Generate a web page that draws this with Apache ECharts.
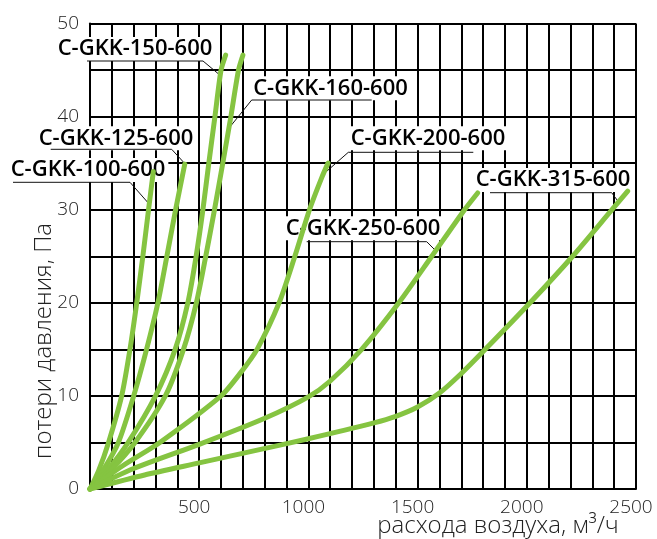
<!DOCTYPE html>
<html><head><meta charset="utf-8">
<script src="https://cdn.jsdelivr.net/npm/echarts@6/dist/echarts.min.js"></script>
<style>html,body{margin:0;padding:0;background:#fff}#c{width:657px;height:539px}</style>
</head><body><div id="c"></div>
<script>
// ---- data (air flow m3/h, pressure loss Pa) ----
const seriesNames = ['C-GKK-100-600','C-GKK-125-600','C-GKK-150-600','C-GKK-160-600','C-GKK-200-600','C-GKK-250-600','C-GKK-315-600'];
const gkk100 = [[0,0],[40,2],[85,5],[145,10],[183,15],[214,20],[242,25],[268,30],[290,34.1]];
const gkk125 = [[0,0],[60,2],[130,5],[200,10],[259,15],[311,20],[352,25],[392,30],[434,34.9]];
const gkk150 = [[0,0],[80,2],[175,5],[300,10],[390,15],[448,20],[486,25],[517,30],[544,35],[572,40],[600,45],[621,46.6]];
const gkk160 = [[0,0],[95,2],[206,5],[345,10],[428,15],[487,20],[530,25],[570,30],[608,35],[645,40],[680,45],[700,46.6]];
const gkk200 = [[0,0],[150,2.5],[320,5],[600,10],[690,12.5],[765,15],[866,20],[938,25],[1005,30],[1062,33.5],[1090,35]];
const gkk250 = [[0,0],[200,2.2],[500,4.8],[800,7.6],[1000,9.9],[1100,11.6],[1244,15],[1414,20],[1565,25],[1715,30],[1775,31.8]];
const gkk315 = [[0,0],[250,1.5],[500,2.8],[750,4.1],[1000,5.4],[1300,7.1],[1400,7.8],[1500,8.8],[1600,10.3],[1700,12.4],[1810,15],[2015,20],[2210,25],[2390,30],[2462,32]];
const curves = [gkk100, gkk125, gkk150, gkk160, gkk200, gkk250, gkk315];
// points on the curves that the leader lines point to (data coords)
const labelAnchors = [[275,30.5],[440,34.8],[603,44.3],[641,38.9],[1068,33.8],[1587,25.5],[2424,30.7]];
const xTickLabels = [500,1000,1500,2000,2500];
const yTickLabels = [0,10,20,30,40,50];
const xTitle = 'расхода воздуха, м³/ч';
const yTitle = 'потери давления, Па';

// ---- layout (pixels) ----
const labelLayout = [
  {cx:88, cy:170, u1:13, u2:130, uy:182.3, from:'right'},
  {cx:116, cy:138.3, u1:50.7, u2:171.7, uy:149.3, from:'right'},
  {cx:135, cy:49, u1:87, u2:203, uy:61, from:'right'},
  {cx:330.5, cy:88.3, u1:251.7, u2:371.7, uy:100, from:'left'},
  {cx:428, cy:138.3, u1:348.3, u2:473.3, uy:152.3, from:'left'},
  {cx:363, cy:228.3, u1:306.7, u2:426.7, uy:241.7, from:'right'},
  {cx:553, cy:180, u1:490, u2:611.7, uy:192.7, from:'right'}
];
const GREEN = '#85C441';
const LINE = '#000';
const tickFont = {color:'#222', fontFamily:'"Open Sans"', fontWeight:300, fontSize:19};

const chart = echarts.init(document.getElementById('c'));
chart.setOption({
  animation:false,
  backgroundColor:'#fff',
  grid:{left:90, top:23.5, right:21, bottom:50, containLabel:false},
  xAxis:{type:'value', min:0, max:2500, interval:500,
    axisLine:{show:true, lineStyle:{color:LINE, width:2}},
    axisTick:{show:false},
    minorTick:{show:false, splitNumber:5},
    splitLine:{show:true, lineStyle:{color:LINE, width:2}},
    minorSplitLine:{show:true, lineStyle:{color:LINE, width:2}},
    axisLabel:Object.assign({margin:9, padding:[0,10,0,0],
      formatter:v => xTickLabels.includes(v) ? String(v) : ''}, tickFont)
  },
  yAxis:{type:'value', min:0, max:50, interval:10,
    axisLine:{show:true, lineStyle:{color:LINE, width:2}},
    axisTick:{show:false},
    minorTick:{show:false, splitNumber:2},
    splitLine:{show:true, lineStyle:{color:LINE, width:2}},
    minorSplitLine:{show:true, lineStyle:{color:LINE, width:2}},
    axisLabel:Object.assign({margin:11,
      formatter:v => yTickLabels.includes(v) ? String(v) : ''}, tickFont)
  },
  series: curves.map((d,i) => ({
    name:seriesNames[i], type:'line', data:d, smooth:0.25, showSymbol:false, clip:false,
    lineStyle:{color:GREEN, width:5, cap:'round', join:'round'}, z:3
  }))
});

const elements = [];
seriesNames.forEach((name,i) => {
  const L = labelLayout[i];
  const a = chart.convertToPixel({gridIndex:0}, labelAnchors[i]);
  const start = L.from === 'right' ? [L.u1, L.uy] : [L.u2, L.uy];
  const knee = L.from === 'right' ? [L.u2, L.uy] : [L.u1, L.uy];
  elements.push({type:'text', z:1, style:{text:name, x:L.cx, y:L.cy, align:'center', verticalAlign:'middle',
    font:'600 22px "Open Sans"', fill:'#000', backgroundColor:'#fff', padding:[1,3,1,3]}});
  elements.push({type:'polyline', z:1, shape:{points:[start, knee, a]}, style:{stroke:'#111', lineWidth:1, fill:null}});
});
elements.push({type:'text', z:1, x:498, y:526, style:{text:xTitle, align:'center', verticalAlign:'middle',
  font:'300 24px "Open Sans"', fill:'#222'}});
elements.push({type:'text', z:1, x:44, y:341, rotation:Math.PI/2, style:{text:yTitle, align:'center', verticalAlign:'middle',
  font:'300 24px "Open Sans"', fill:'#222'}});
chart.setOption({graphic:{elements}});
</script></body></html>
